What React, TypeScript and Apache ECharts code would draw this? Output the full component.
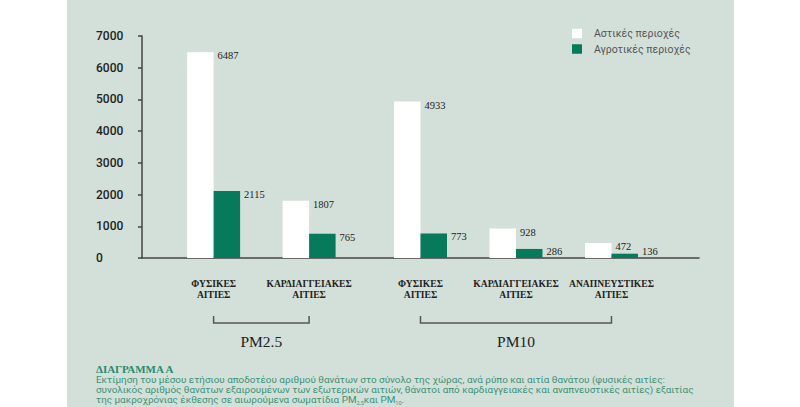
import React, { useEffect, useRef } from "react";
import * as echarts from "echarts";

const categories = [
  "ΦΥΣΙΚΕΣ\nΑΙΤΙΕΣ",
  "ΚΑΡΔΙΑΓΓΕΙΑΚΕΣ\nΑΙΤΙΕΣ",
  "ΦΥΣΙΚΕΣ\nΑΙΤΙΕΣ",
  "ΚΑΡΔΙΑΓΓΕΙΑΚΕΣ\nΑΙΤΙΕΣ",
  "ΑΝΑΠΝΕΥΣΤΙΚΕΣ\nΑΙΤΙΕΣ",
];
const urban = [6487, 1807, 4933, 928, 472];
const rural = [2115, 765, 773, 286, 136];
const groups = ["PM2.5", "PM10"];
const groupOf = [0, 0, 1, 1, 1];
const seriesNames = ["Αστικές περιοχές", "Αγροτικές περιοχές"];
const yTicks = [0, 1000, 2000, 3000, 4000, 5000, 6000, 7000];

const captionTitle = "ΔΙΑΓΡΑΜΜΑ Α";
const captionLines = [
  "Εκτίμηση του μέσου ετήσιου αποδοτέου αριθμού θανάτων στο σύνολο της χώρας, ανά ρύπο και αιτία θανάτου (φυσικές αιτίες:",
  "συνολικός αριθμός θανάτων εξαιρουμένων των εξωτερικών αιτιών, θάνατοι από καρδιαγγειακές και αναπνευστικές αιτίες) εξαιτίας",
  "της μακροχρόνιας έκθεσης σε αιωρούμενα σωματίδια PM{sub|2,5}και PM{sub|10}.",
];

// layout: the axis is split into narrow slots; categories sit on some of them
const SLOT_COUNT = 35;
const slotOf = [4, 10, 17, 23, 29];

const GREEN = "#077a5b";
const BG = "#d3e0d9";
const SERIF = "'Liberation Serif', 'DejaVu Serif', serif";
const SANS = "Roboto, 'Noto Sans', sans-serif";

export default function App() {
  const ref = useRef<HTMLDivElement>(null);
  useEffect(() => {
    if (!ref.current) return;
    const chart = echarts.init(ref.current, undefined, { renderer: "svg" });

    const slotLabels: string[] = Array.from({ length: SLOT_COUNT }, () => "");
    const urbanData: any[] = Array.from({ length: SLOT_COUNT }, () => "-");
    const ruralData: any[] = Array.from({ length: SLOT_COUNT }, () => "-");
    slotOf.forEach((s, i) => {
      slotLabels[s] = categories[i];
      urbanData[s] = urban[i];
      ruralData[s] = rural[i];
    });

    const labelLayout = (p: any) => ({
      x: p.rect.x + p.rect.width + 4,
      y: Math.min(p.rect.y + 3.5, p.rect.y + p.rect.height - 7),
      align: "left",
      verticalAlign: "middle",
    });
    const valueLabel = {
      show: true,
      position: "right",
      fontFamily: SERIF,
      fontSize: 10.5,
      color: "#222",
    };

    const background = {
      type: "rect",
      id: "bg",
      z: -10,
      shape: { x: 67, y: 0, width: 667, height: 407 },
      style: { fill: BG },
      silent: true,
    };

    const captionEls: any[] = [
      {
        type: "text",
        id: "capTitle",
        x: 96,
        y: 369,
        style: {
          text: captionTitle,
          fontFamily: SERIF,
          fontWeight: "bold",
          fontSize: 11,
          fill: "#2a8a6c",
          verticalAlign: "middle",
        },
      },
      ...captionLines.map((t, i) => ({
        type: "text",
        id: "cap" + i,
        x: 96,
        y: 379.5 + i * 10.2,
        style: {
          text: t,
          fontFamily: SANS,
          fontSize: 9.9,
          fill: "#3a9276",
          verticalAlign: "middle",
          rich: {
            sub: { fontSize: 5.5, fontFamily: SANS, fill: "#3a9276", padding: [6, 0, 0, 0] },
          },
        },
      })),
    ];

    chart.setOption({
      animation: false,
      backgroundColor: "#ffffff",
      grid: { left: 142, right: 101, top: 36, bottom: 149 },
      legend: {
        orient: "vertical",
        left: 567,
        top: 23,
        icon: "rect",
        itemWidth: 10,
        itemHeight: 9.5,
        itemGap: 4.5,
        data: seriesNames,
        textStyle: { fontFamily: SANS, fontSize: 10.5, color: "#555", padding: [0, 0, 0, 7] },
      },
      xAxis: {
        type: "category",
        data: slotLabels,
        axisLine: { lineStyle: { color: "#444", width: 1.5 } },
        axisTick: {
          alignWithLabel: true,
          length: 5,
          interval: (_i: number, v: string) => v !== "",
          lineStyle: { color: "#444", width: 1.5 },
        },
        axisLabel: {
          interval: 0,
          margin: 20,
          fontFamily: SERIF,
          fontWeight: "bold",
          fontSize: 9.6,
          lineHeight: 11,
          color: "#222",
        },
      },
      yAxis: {
        type: "value",
        min: yTicks[0],
        max: yTicks[yTicks.length - 1],
        interval: yTicks[1] - yTicks[0],
        splitLine: { show: false },
        axisLine: { show: true, lineStyle: { color: "#444", width: 1.5 } },
        axisTick: { show: true, length: 4, lineStyle: { color: "#444", width: 1.5 } },
        axisLabel: {
          align: "left",
          margin: 46,
          fontFamily: SANS,
          fontWeight: 500,
          fontSize: 12,
          color: "#222",
          formatter: (v: number) => String(v),
        },
      },
      series: [
        {
          name: seriesNames[0],
          type: "bar",
          data: urbanData,
          barWidth: 26.5,
          barGap: "0%",
          itemStyle: { color: "#ffffff" },
          label: valueLabel,
          labelLayout,
        },
        {
          name: seriesNames[1],
          type: "bar",
          data: ruralData,
          barWidth: 26.5,
          barGap: "0%",
          itemStyle: { color: GREEN },
          label: valueLabel,
          labelLayout,
        },
      ],
      graphic: [background, ...captionEls],
    });

    // group brackets, placed through the category axis
    const bracketEls: any[] = [];
    groups.forEach((g, gi) => {
      const idx = groupOf.map((v, i) => (v === gi ? i : -1)).filter((i) => i >= 0);
      const x1 = chart.convertToPixel({ xAxisIndex: 0 }, slotOf[idx[0]]) as number;
      const x2 = chart.convertToPixel({ xAxisIndex: 0 }, slotOf[idx[idx.length - 1]]) as number;
      bracketEls.push({
        type: "polyline",
        id: "br" + gi,
        shape: { points: [[x1, 316], [x1, 323], [x2, 323], [x2, 316]] },
        style: { stroke: "#555", lineWidth: 1.5, fill: null },
      });
      bracketEls.push({
        type: "text",
        id: "brt" + gi,
        x: (x1 + x2) / 2,
        y: 341,
        style: {
          text: g,
          fontFamily: SERIF,
          fontSize: 15.5,
          fill: "#222",
          align: "center",
          verticalAlign: "middle",
        },
      });
    });
    chart.setOption({ graphic: [background, ...captionEls, ...bracketEls] });

    return () => chart.dispose();
  }, []);
  return (
    <div
      ref={ref}
      style={{ position: "absolute", left: 0, top: 0, width: 800, height: 407 }}
    />
  );
}
